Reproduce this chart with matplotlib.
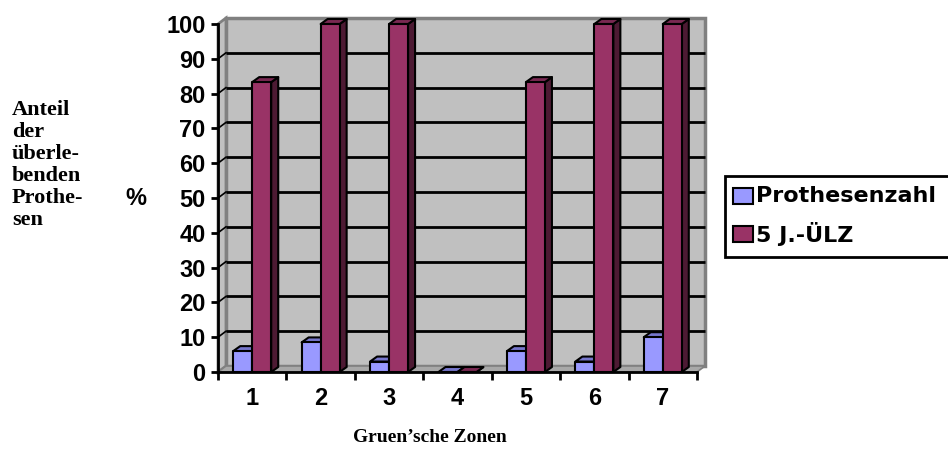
import matplotlib
matplotlib.use("Agg")
import matplotlib.pyplot as plt
from matplotlib.patches import Polygon, Rectangle

# Data
zones = ["1", "2", "3", "4", "5", "6", "7"]
prothesenzahl = [6, 8.5, 3, 0, 6, 3, 10]
ueberlebensrate = [83.3, 100, 100, 0, 83.3, 100, 100]
y_ticks = [0, 10, 20, 30, 40, 50, 60, 70, 80, 90, 100]
series_names = ["Prothesenzahl", "5 J.-ÜLZ"]
left_label = ["Anteil", "der", "überle-", "benden", "Prothe-", "sen"]

# Colours (front, top, side)
blue = ("#9999FF", "#7777CC", "#55559A")
red = ("#993366", "#7A2952", "#4D1A33")
wall = "#C0C0C0"
wall_edge = "#808080"

W, H = 948, 454
fig = plt.figure(figsize=(W / 100, H / 100), dpi=100)
ax = fig.add_axes([218 / W, (H - 372) / H, 479 / W, 348 / H])
ax.set_xlim(0, len(zones))
ax.set_ylim(0, 100)
ax.patch.set_visible(False)

px_x = 479 / len(zones)   # pixels per category
px_y = 348 / 100          # pixels per percent
wdx, wdy = 8 / px_x, 6 / px_y     # wall depth offset
bdx, bdy = 7 / px_x, 5 / px_y     # bar depth offset
bw = 19 / px_x                    # bar width
n = len(zones)
top = y_ticks[-1]

# Back wall
ax.add_patch(Polygon([(wdx, wdy), (n + wdx, wdy), (n + wdx, top + wdy), (wdx, top + wdy)],
                     closed=True, facecolor=wall, edgecolor=wall_edge, lw=2.5, zorder=0.5,
                     clip_on=False))
# Left side wall
ax.add_patch(Polygon([(0, 0), (wdx, wdy), (wdx, top + wdy), (0, top)],
                     closed=True, facecolor=wall, edgecolor=wall_edge, lw=2, zorder=0.5,
                     clip_on=False))
# Floor
ax.add_patch(Polygon([(0, 0), (n, 0), (n + wdx, wdy), (wdx, wdy)],
                     closed=True, facecolor="#A8A8A8", edgecolor=wall_edge, lw=1.2, zorder=0.5,
                     clip_on=False))
# Gridlines on the back wall and the side wall
for t in y_ticks[1:-1]:
    ax.plot([wdx, n + wdx], [t + wdy, t + wdy], color="black", lw=2, zorder=0.6,
            clip_on=False, solid_capstyle="butt")
    ax.plot([0, wdx], [t, t + wdy], color="black", lw=1.2, zorder=0.6, clip_on=False)


def bar3d(x0, val, cols):
    front, topc, side = cols
    ax.add_patch(Polygon([(x0 + bw, 0), (x0 + bw + bdx, bdy), (x0 + bw + bdx, val + bdy),
                          (x0 + bw, val)], closed=True, facecolor=side, edgecolor="black",
                         lw=1.5, zorder=2, clip_on=False, joinstyle="round"))
    ax.add_patch(Polygon([(x0, val), (x0 + bw, val), (x0 + bw + bdx, val + bdy),
                          (x0 + bdx, val + bdy)], closed=True, facecolor=topc, edgecolor="black",
                         lw=1.5, zorder=2, clip_on=False, joinstyle="round"))
    ax.add_patch(Rectangle((x0, 0), bw, val, facecolor=front, edgecolor="black", lw=1.5,
                           zorder=2, clip_on=False, joinstyle="round"))


for i in range(n):
    c = i + 0.5
    bar3d(c - bw, prothesenzahl[i], blue)
    bar3d(c, ueberlebensrate[i], red)

# Axes
for s in ["top", "right"]:
    ax.spines[s].set_visible(False)
for s in ["left", "bottom"]:
    ax.spines[s].set_linewidth(2)
    ax.spines[s].set_color("black")
    ax.spines[s].set_zorder(3)

tick_font = dict(family="Liberation Sans", weight="bold", size=17)
ax.set_yticks(y_ticks)
ax.set_yticklabels([str(t) for t in y_ticks], fontdict=tick_font)
ax.tick_params(axis="y", direction="out", length=5, width=2, pad=4)
ax.set_xticks(range(n + 1))
ax.set_xticklabels([])
ax.tick_params(axis="x", which="major", direction="out", length=6, width=2)
ax.set_xticks([i + 0.5 for i in range(n)], minor=True)
ax.set_xticklabels(zones, minor=True, fontdict=tick_font)
ax.tick_params(axis="x", which="minor", length=0, pad=11)

# Overlay for free text and legend (pixel coordinates)
ov = fig.add_axes([0, 0, 1, 1])
ov.set_xlim(0, W)
ov.set_ylim(H, 0)
ov.axis("off")
ov.patch.set_visible(False)

serif = dict(family="Liberation Serif", weight="bold")
for k, line in enumerate(left_label):
    ov.text(12, 115 + 22 * k, line, fontsize=16, va="baseline", ha="left", **serif)
ov.text(136, 205, "%", fontsize=17, va="baseline", ha="center",
        family="Liberation Sans", weight="bold")
ov.text(430, 437, "Gruen\u2019sche Zonen", fontsize=14, va="center", ha="center", **serif)

# Legend box
ov.add_patch(Rectangle((725, 176), 260, 81, facecolor="white", edgecolor="black", lw=2))
for k, (name, col) in enumerate(zip(series_names, [blue[0], red[0]])):
    y0 = 188 + 38 * k
    ov.add_patch(Rectangle((733, y0), 20, 16, facecolor=col, edgecolor="black", lw=1.5))
    ov.text(756, y0 + 8, name, fontsize=16, va="center", ha="left",
            family="DejaVu Sans", weight="bold")

fig.savefig("out.png", dpi=100)
